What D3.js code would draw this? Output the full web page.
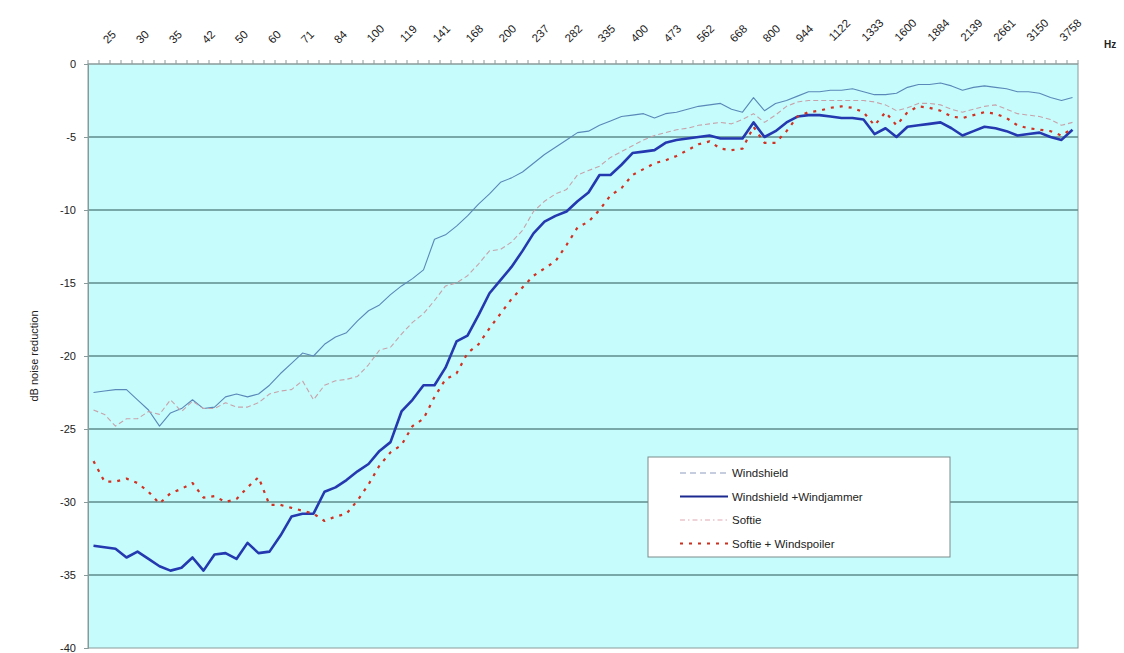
<!DOCTYPE html>
<html>
<head>
<meta charset="utf-8">
<script src="https://cdn.jsdelivr.net/npm/d3@7/dist/d3.min.js"></script>
<style>
  body { margin: 0; background: #fff; }
  svg { display: block; font-family: Arial, "Liberation Sans", sans-serif; }
</style>
</head>
<body>
<svg id="chart" width="1124" height="653"></svg>
<script>
// 1/12 octave bands, Hz
const freqs = [24, 25, 26, 28, 30, 31, 33, 35, 37, 40,
  42, 45, 47, 50, 53, 56, 60, 63, 67, 71,
  75, 79, 84, 89, 94, 100, 106, 112, 119, 126,
  133, 141, 150, 159, 168, 178, 189, 200, 212, 224,
  237, 251, 266, 282, 299, 317, 335, 355, 376, 400,
  422, 447, 473, 501, 531, 562, 596, 631, 668, 708,
  750, 800, 842, 892, 944, 1000, 1060, 1122, 1189, 1260,
  1333, 1414, 1498, 1600, 1682, 1782, 1884, 2000, 2070, 2139,
  2300, 2500, 2661, 2828, 2997, 3150, 3364, 3564, 3758, 4000];

// every third band carries a label
const tickLabels = freqs.filter((f, i) => i % 3 === 1);

const yTicks = [0, -5, -10, -15, -20, -25, -30, -35, -40];

const windshield = [-22.5, -22.4, -22.3, -22.3, -23.0, -23.7, -24.8, -23.9, -23.6, -23.0,
  -23.6, -23.5, -22.8, -22.6, -22.8, -22.6, -22.0, -21.2, -20.5, -19.8,
  -20.0, -19.2, -18.7, -18.4, -17.6, -16.9, -16.5, -15.8, -15.2, -14.7,
  -14.1, -12.0, -11.7, -11.1, -10.4, -9.6, -8.9, -8.1, -7.8, -7.4,
  -6.8, -6.2, -5.7, -5.2, -4.7, -4.6, -4.2, -3.9, -3.6, -3.5,
  -3.4, -3.7, -3.4, -3.3, -3.1, -2.9, -2.8, -2.7, -3.1, -3.3,
  -2.3, -3.2, -2.7, -2.5, -2.2, -1.9, -1.9, -1.8, -1.8, -1.7,
  -1.9, -2.1, -2.1, -2.0, -1.6, -1.4, -1.4, -1.3, -1.5, -1.8,
  -1.6, -1.5, -1.6, -1.7, -1.9, -1.9, -2.0, -2.3, -2.5, -2.3];

const windjammer = [-33.0, -33.1, -33.2, -33.8, -33.4, -33.9, -34.4, -34.7, -34.5, -33.8,
  -34.7, -33.6, -33.5, -33.9, -32.8, -33.5, -33.4, -32.3, -31.0, -30.8,
  -30.8, -29.3, -29.0, -28.5, -27.9, -27.4, -26.5, -25.9, -23.8, -23.0,
  -22.0, -22.0, -20.8, -19.0, -18.6, -17.2, -15.7, -14.8, -13.9, -12.8,
  -11.6, -10.8, -10.4, -10.1, -9.4, -8.8, -7.6, -7.6, -6.9, -6.1,
  -6.0, -5.9, -5.4, -5.2, -5.1, -5.0, -4.9, -5.1, -5.1, -5.1,
  -4.0, -5.0, -4.6, -4.0, -3.6, -3.5, -3.5, -3.6, -3.7, -3.7,
  -3.8, -4.8, -4.4, -5.0, -4.3, -4.2, -4.1, -4.0, -4.4, -4.9,
  -4.6, -4.3, -4.4, -4.6, -4.9, -4.8, -4.7, -5.0, -5.2, -4.5];

const softie = [-23.7, -24.0, -24.8, -24.3, -24.3, -23.8, -24.0, -23.0, -23.8, -23.1,
  -23.6, -23.6, -23.2, -23.5, -23.5, -23.2, -22.6, -22.4, -22.3, -21.7,
  -23.0, -22.0, -21.7, -21.6, -21.4, -20.6, -19.6, -19.4, -18.5, -17.7,
  -17.1, -16.2, -15.2, -15.0, -14.5, -13.7, -12.8, -12.7, -12.2, -11.4,
  -10.1, -9.4, -8.9, -8.6, -7.6, -7.3, -7.0, -6.4, -6.0, -5.6,
  -5.2, -4.9, -4.7, -4.5, -4.4, -4.2, -4.1, -4.0, -4.1, -3.8,
  -3.4, -4.0, -3.5, -2.9, -2.6, -2.5, -2.5, -2.5, -2.5, -2.5,
  -2.5, -2.6, -2.8, -3.2, -3.0, -2.7, -2.7, -2.8, -3.1, -3.3,
  -3.1, -2.9, -2.8, -3.1, -3.4, -3.5, -3.6, -3.8, -4.2, -4.0];

const windspoiler = [-27.2, -28.6, -28.6, -28.4, -28.7, -29.3, -30.1, -29.4, -29.1, -28.7,
  -29.7, -29.6, -30.0, -29.8, -29.0, -28.3, -30.2, -30.2, -30.4, -30.6,
  -30.8, -31.3, -31.0, -30.8, -29.9, -28.8, -27.5, -26.6, -26.1, -24.8,
  -24.3, -22.8, -21.6, -21.2, -19.8, -19.2, -18.1, -17.1, -16.1, -15.3,
  -14.5, -14.0, -13.5, -12.4, -11.2, -10.8, -10.0, -9.0, -8.5, -7.6,
  -7.2, -6.8, -6.6, -6.3, -5.9, -5.5, -5.3, -5.8, -5.9, -5.8,
  -4.3, -5.4, -5.4, -4.6, -3.6, -3.3, -3.2, -3.0, -2.9, -3.0,
  -3.3, -4.2, -3.3, -4.2, -3.3, -2.9, -3.0, -3.2, -3.6, -3.7,
  -3.5, -3.3, -3.4, -3.7, -4.2, -4.4, -4.5, -4.6, -4.9, -4.4];

const seriesNames = ['Windshield', 'Windshield +Windjammer', 'Softie', 'Softie + Windspoiler'];

const svg = d3.select('#chart');

const PLOT_L = 88, PLOT_R = 1078, PLOT_T = 64, PLOT_B = 648;

const x = d3.scaleBand().domain(freqs).range([PLOT_L, PLOT_R]).padding(0);
const y = d3.scaleLinear().domain([-40, 0]).range([PLOT_B, PLOT_T]);
const bw = x.bandwidth();

// plot background
svg.append('rect')
  .attr('x', PLOT_L).attr('y', PLOT_T)
  .attr('width', PLOT_R - PLOT_L).attr('height', PLOT_B - PLOT_T)
  .attr('fill', '#c6fcfc')
  .attr('stroke', '#8a9a9a').attr('stroke-width', 1);

// gridlines
svg.append('g')
  .selectAll('line')
  .data(yTicks.filter(d => d !== 0 && d !== -40))
  .join('line')
  .attr('x1', PLOT_L).attr('x2', PLOT_R)
  .attr('y1', d => y(d)).attr('y2', d => y(d))
  .attr('stroke', '#5e8c8c').attr('stroke-width', 1.4);

// left axis
const yAxis = svg.append('g')
  .attr('transform', `translate(${PLOT_L},0)`)
  .call(d3.axisLeft(y).tickValues(yTicks).tickSize(4).tickPadding(8).tickFormat(d => String(d)));
yAxis.select('.domain').attr('stroke', '#8a9a9a');
yAxis.selectAll('.tick line').attr('stroke', '#8a9a9a');
yAxis.selectAll('text').attr('font-size', 11).attr('fill', '#222');

// top axis: ticks on band boundaries
const topAxis = svg.append('g');
topAxis.append('line')
  .attr('x1', PLOT_L).attr('x2', PLOT_R)
  .attr('y1', PLOT_T).attr('y2', PLOT_T)
  .attr('stroke', '#8a9a9a');
topAxis.selectAll('line.tk')
  .data(freqs.concat(['end']))
  .join('line')
  .attr('class', 'tk')
  .attr('x1', d => d === 'end' ? PLOT_R : x(d))
  .attr('x2', d => d === 'end' ? PLOT_R : x(d))
  .attr('y1', PLOT_T).attr('y2', PLOT_T - 4)
  .attr('stroke', '#8a9a9a');

topAxis.selectAll('text')
  .data(tickLabels)
  .join('text')
  .attr('transform', d => {
    const n = String(d).length;
    const cx = x(d) + bw / 2 + 1 + 2 * n;
    const cy = 44 - 3.5 * n;
    return `translate(${cx},${cy}) rotate(-45)`;
  })
  .attr('text-anchor', 'middle')
  .attr('dominant-baseline', 'central')
  .attr('font-size', 11.5)
  .attr('fill', '#222')
  .text(d => d);

svg.append('text')
  .attr('x', 1104).attr('y', 48)
  .attr('font-size', 10).attr('font-weight', 'bold')
  .attr('fill', '#222')
  .text('Hz');

// y axis title
svg.append('text')
  .attr('transform', `translate(38,${(PLOT_T + PLOT_B) / 2}) rotate(-90)`)
  .attr('text-anchor', 'middle')
  .attr('font-size', 11)
  .attr('fill', '#222')
  .text('dB noise reduction');

// series
const styles = [
  { data: windshield, color: '#5a88b8', width: 1.1, dash: null, legendDash: '6,4', legendColor: '#8c9cc0' },
  { data: windjammer, color: '#2438b0', width: 2.6, dash: null, legendDash: null, legendColor: '#1c2a90' },
  { data: softie, color: '#c8a2aa', width: 1.1, dash: '5,3', legendDash: '5,3,1.5,3', legendColor: '#e0a8b4' },
  { data: windspoiler, color: '#d23020', width: 2.2, dash: '3,6', legendDash: '3,6', legendColor: '#c83020' },
];

const line = d3.line()
  .x((d, i) => x(freqs[i]) + bw / 2)
  .y(d => y(d));

styles.forEach((s) => {
  svg.append('path')
    .datum(s.data)
    .attr('d', line)
    .attr('fill', 'none')
    .attr('stroke', s.color)
    .attr('stroke-width', s.width)
    .attr('stroke-linejoin', 'round')
    .attr('stroke-dasharray', s.dash);
});

// legend
const lg = svg.append('g').attr('transform', 'translate(648,457)');
lg.append('rect')
  .attr('width', 302).attr('height', 100)
  .attr('fill', '#fff')
  .attr('stroke', '#7a8a8a').attr('stroke-width', 1);

seriesNames.forEach((name, i) => {
  const s = styles[i];
  const ly = 16 + i * 23.5;
  lg.append('line')
    .attr('x1', 32).attr('x2', 80)
    .attr('y1', ly).attr('y2', ly)
    .attr('stroke', s.legendColor)
    .attr('stroke-width', i === 1 ? 2 : (i === 3 ? 1.8 : 1.2))
    .attr('stroke-dasharray', s.legendDash);
  lg.append('text')
    .attr('x', 84).attr('y', ly)
    .attr('dominant-baseline', 'central')
    .attr('font-size', 11.5)
    .attr('fill', '#222')
    .text(name);
});
</script>
</body>
</html>
